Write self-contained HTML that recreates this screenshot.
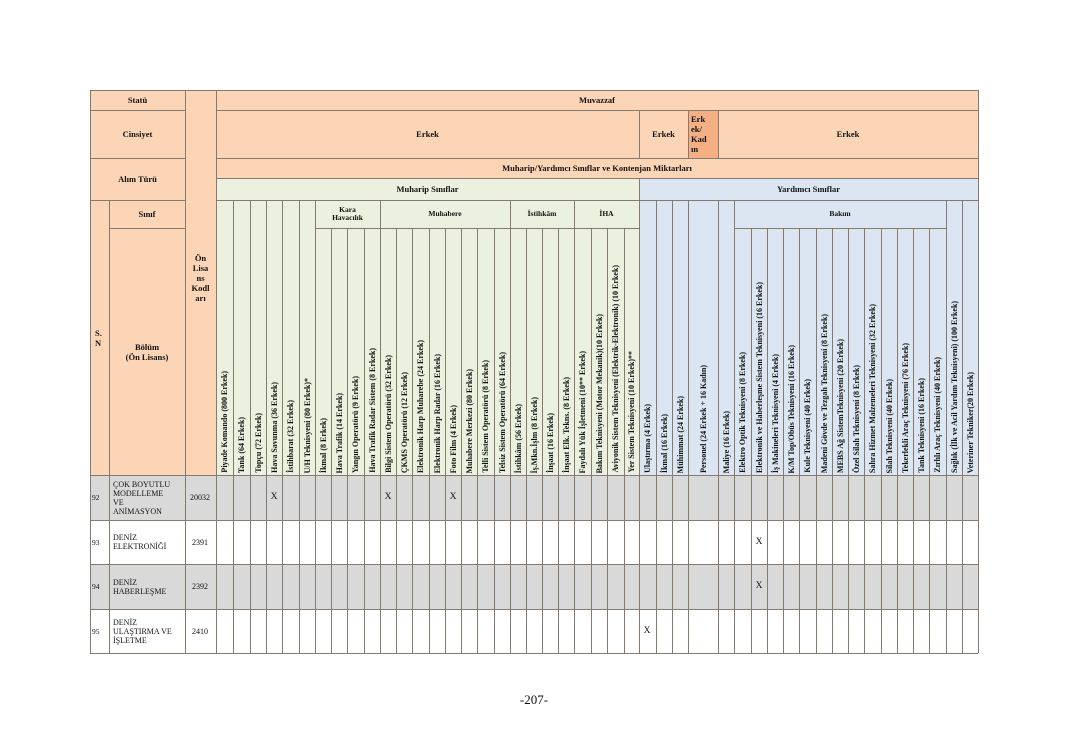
<!DOCTYPE html>
<html><head><meta charset="utf-8">
<style>
*{margin:0;padding:0;box-sizing:border-box}
body{width:1068px;height:755px;background:#fff;position:relative;overflow:hidden;font-family:"Liberation Serif",serif;color:#111}
.b{position:absolute}
.c{position:absolute;display:flex;align-items:center;justify-content:center;text-align:center;font-weight:bold;font-size:8.5px;line-height:10px}
.v{position:absolute;top:230px;height:243px;display:flex;justify-content:center;align-items:flex-end}
.v span{writing-mode:vertical-rl;transform:rotate(180deg);font-weight:bold;font-size:8px;white-space:nowrap;line-height:9px}
.d{position:absolute;font-size:8px;line-height:9px;display:flex;align-items:center}
.x{position:absolute;font-size:9.5px;width:16px;text-align:center}
</style></head><body>
<!-- backgrounds -->
<div class="b" style="left:90px;top:90px;width:888px;height:110px;background:#fbd5b5"></div>
<div class="b" style="left:90px;top:200px;width:126px;height:275px;background:#fbd5b5"></div>
<div class="b" style="left:688px;top:110px;width:30px;height:48px;background:#f4b084"></div>
<div class="b" style="left:216px;top:178px;width:423px;height:297px;background:#ebf1de"></div>
<div class="b" style="left:639px;top:178px;width:339px;height:297px;background:#dce6f2"></div>
<div class="b" style="left:90px;top:475px;width:888px;height:45px;background:#d9d9d9"></div>
<div class="b" style="left:90px;top:564px;width:888px;height:45px;background:#d9d9d9"></div>

<svg class="b" style="left:0;top:0" width="1068" height="755" stroke="#857a70" stroke-width="1">
<g>
<line x1="90" y1="90.5" x2="978" y2="90.5"/>
<line x1="90" y1="110.5" x2="185" y2="110.5"/>
<line x1="216" y1="110.5" x2="978" y2="110.5"/>
<line x1="90" y1="158.5" x2="185" y2="158.5"/>
<line x1="216" y1="158.5" x2="978" y2="158.5"/>
<line x1="216" y1="178.5" x2="978" y2="178.5"/>
<line x1="90" y1="200.5" x2="185" y2="200.5"/>
<line x1="216" y1="200.5" x2="978" y2="200.5"/>
<line x1="109" y1="228.5" x2="185" y2="228.5"/>
<line x1="315" y1="228.5" x2="639" y2="228.5"/>
<line x1="734" y1="228.5" x2="946" y2="228.5"/>
<line x1="90" y1="475.5" x2="978" y2="475.5"/>
<line x1="90" y1="520.5" x2="978" y2="520.5"/>
<line x1="90" y1="564.5" x2="978" y2="564.5"/>
<line x1="90" y1="609.5" x2="978" y2="609.5"/>
<line x1="90" y1="653.5" x2="978" y2="653.5"/>
<line x1="90.5" y1="90" x2="90.5" y2="653"/>
<line x1="109.5" y1="200" x2="109.5" y2="653"/>
<line x1="185.5" y1="90" x2="185.5" y2="653"/>
<line x1="216.5" y1="90" x2="216.5" y2="653"/>
<line x1="978.5" y1="90" x2="978.5" y2="653"/>
<line x1="639.5" y1="110" x2="639.5" y2="158"/>
<line x1="688.5" y1="110" x2="688.5" y2="158"/>
<line x1="718.5" y1="110" x2="718.5" y2="158"/>
<line x1="639.5" y1="178" x2="639.5" y2="653"/>
</g>
<g>
<line x1="233.5" y1="200" x2="233.5" y2="653"/>
<line x1="250.5" y1="200" x2="250.5" y2="653"/>
<line x1="266.5" y1="200" x2="266.5" y2="653"/>
<line x1="282.5" y1="200" x2="282.5" y2="653"/>
<line x1="299.5" y1="200" x2="299.5" y2="653"/>
<line x1="315.5" y1="200" x2="315.5" y2="653"/>
<line x1="331.5" y1="228" x2="331.5" y2="653"/>
<line x1="347.5" y1="228" x2="347.5" y2="653"/>
<line x1="364.5" y1="228" x2="364.5" y2="653"/>
<line x1="380.5" y1="200" x2="380.5" y2="653"/>
<line x1="396.5" y1="228" x2="396.5" y2="653"/>
<line x1="412.5" y1="228" x2="412.5" y2="653"/>
<line x1="429.5" y1="228" x2="429.5" y2="653"/>
<line x1="445.5" y1="228" x2="445.5" y2="653"/>
<line x1="461.5" y1="228" x2="461.5" y2="653"/>
<line x1="477.5" y1="228" x2="477.5" y2="653"/>
<line x1="494.5" y1="228" x2="494.5" y2="653"/>
<line x1="510.5" y1="200" x2="510.5" y2="653"/>
<line x1="526.5" y1="228" x2="526.5" y2="653"/>
<line x1="542.5" y1="228" x2="542.5" y2="653"/>
<line x1="558.5" y1="228" x2="558.5" y2="653"/>
<line x1="574.5" y1="200" x2="574.5" y2="653"/>
<line x1="591.5" y1="228" x2="591.5" y2="653"/>
<line x1="607.5" y1="228" x2="607.5" y2="653"/>
<line x1="624.5" y1="228" x2="624.5" y2="653"/>
<line x1="656.5" y1="200" x2="656.5" y2="653"/>
<line x1="672.5" y1="200" x2="672.5" y2="653"/>
<line x1="688.5" y1="200" x2="688.5" y2="653"/>
<line x1="718.5" y1="200" x2="718.5" y2="653"/>
<line x1="734.5" y1="200" x2="734.5" y2="653"/>
<line x1="751.5" y1="228" x2="751.5" y2="653"/>
<line x1="767.5" y1="228" x2="767.5" y2="653"/>
<line x1="783.5" y1="228" x2="783.5" y2="653"/>
<line x1="799.5" y1="228" x2="799.5" y2="653"/>
<line x1="816.5" y1="228" x2="816.5" y2="653"/>
<line x1="832.5" y1="228" x2="832.5" y2="653"/>
<line x1="848.5" y1="228" x2="848.5" y2="653"/>
<line x1="864.5" y1="228" x2="864.5" y2="653"/>
<line x1="881.5" y1="228" x2="881.5" y2="653"/>
<line x1="897.5" y1="228" x2="897.5" y2="653"/>
<line x1="913.5" y1="228" x2="913.5" y2="653"/>
<line x1="929.5" y1="228" x2="929.5" y2="653"/>
<line x1="946.5" y1="200" x2="946.5" y2="653"/>
<line x1="962.5" y1="200" x2="962.5" y2="653"/>
</g>
</svg>

<!-- header texts -->
<div class="c" style="left:90px;top:90px;width:95px;height:20px">Statü</div>
<div class="c" style="left:216px;top:90px;width:762px;height:20px">Muvazzaf</div>
<div class="c" style="left:90px;top:110px;width:95px;height:48px">Cinsiyet</div>
<div class="c" style="left:216px;top:110px;width:423px;height:48px">Erkek</div>
<div class="c" style="left:639px;top:110px;width:49px;height:48px">Erkek</div>
<div class="c" style="left:688px;top:110px;width:30px;height:48px;justify-content:flex-start;padding-left:3px;text-align:left">Erk<br>ek/<br>Kad<br>ın</div>
<div class="c" style="left:718px;top:110px;width:260px;height:48px">Erkek</div>
<div class="c" style="left:90px;top:158px;width:95px;height:42px">Alım Türü</div>
<div class="c" style="left:216px;top:158px;width:762px;height:20px">Muharip/Yardımcı Sınıflar ve Kontenjan Miktarları</div>
<div class="c" style="left:216px;top:178px;width:423px;height:22px">Muharip Sınıflar</div>
<div class="c" style="left:639px;top:178px;width:339px;height:22px">Yardımcı Sınıflar</div>
<div class="c" style="left:109px;top:200px;width:76px;height:28px">Sınıf</div>
<div class="c" style="left:90px;width:19px;justify-content:flex-start;padding-left:5px;text-align:left;top:200px;height:275px">S.<br>N</div>
<div class="c" style="left:109px;top:228px;width:76px;height:247px">Bölüm<br>(Ön Lisans)</div>
<div class="c" style="left:185px;top:90px;width:31px;height:385px;padding-bottom:10px">Ön<br>Lisa<br>ns<br>Kodl<br>arı</div>
<div class="c" style="left:315px;top:200px;width:65px;height:28px;font-size:7.5px;line-height:8px">Kara<br>Havacılık</div>
<div class="c" style="left:380px;top:200px;width:130px;height:28px;font-size:7.5px">Muhabere</div>
<div class="c" style="left:510px;top:200px;width:64px;height:28px;font-size:7.5px">İstihkâm</div>
<div class="c" style="left:574px;top:200px;width:65px;height:28px;font-size:7.5px">İHA</div>
<div class="c" style="left:734px;top:200px;width:212px;height:28px;font-size:7.5px">Bakım</div>

<!-- vertical labels -->
<div class="v" style="left:216px;width:17px"><span>Piyade Komando (800 Erkek)</span></div>
<div class="v" style="left:233px;width:17px"><span>Tank (64 Erkek)</span></div>
<div class="v" style="left:250px;width:16px"><span>Topçu (72 Erkek)</span></div>
<div class="v" style="left:266px;width:16px"><span>Hava Savunma (36 Erkek)</span></div>
<div class="v" style="left:282px;width:17px"><span>İstihbarat (32 Erkek)</span></div>
<div class="v" style="left:299px;width:16px"><span>U/H Teknisyeni (80 Erkek)*</span></div>
<div class="v" style="left:315px;width:16px"><span>İkmal (8 Erkek)</span></div>
<div class="v" style="left:331px;width:16px"><span>Hava Trafik (14 Erkek)</span></div>
<div class="v" style="left:347px;width:17px"><span>Yangın Operatörü (9 Erkek)</span></div>
<div class="v" style="left:364px;width:16px"><span>Hava Trafik Radar Sistem (8 Erkek)</span></div>
<div class="v" style="left:380px;width:16px"><span>Bilgi Sistem Operatörü (32 Erkek)</span></div>
<div class="v" style="left:396px;width:16px"><span>ÇKMS Operatörü (12 Erkek)</span></div>
<div class="v" style="left:412px;width:17px"><span>Elektronik Harp Muharebe (24 Erkek)</span></div>
<div class="v" style="left:429px;width:16px"><span>Elektronik Harp Radar (16 Erkek)</span></div>
<div class="v" style="left:445px;width:16px"><span>Foto Film (4 Erkek)</span></div>
<div class="v" style="left:461px;width:16px"><span>Muhabere Merkezi (80 Erkek)</span></div>
<div class="v" style="left:477px;width:17px"><span>Telli Sistem Operatörü (8 Erkek)</span></div>
<div class="v" style="left:494px;width:16px"><span>Telsiz Sistem Operatörü (64 Erkek)</span></div>
<div class="v" style="left:510px;width:16px"><span>İstihkâm (56 Erkek)</span></div>
<div class="v" style="left:526px;width:16px"><span>İş.Mkn.İşlm (8 Erkek)</span></div>
<div class="v" style="left:542px;width:16px"><span>İnşaat (16 Erkek)</span></div>
<div class="v" style="left:558px;width:16px"><span>İnşaat Elk. Tekns. (8 Erkek)</span></div>
<div class="v" style="left:574px;width:17px"><span>Faydalı Yük İşletmeni (10** Erkek)</span></div>
<div class="v" style="left:591px;width:16px"><span>Bakım Teknisyeni (Motor Mekanik)(10 Erkek)</span></div>
<div class="v" style="left:607px;width:17px"><span>Aviyonik Sistem Teknisyeni (Elektrik-Elektronik) (10 Erkek)</span></div>
<div class="v" style="left:624px;width:15px"><span>Yer Sistem Teknisyeni (10 Erkek)**</span></div>
<div class="v" style="left:639px;width:17px"><span>Ulaştırma (4 Erkek)</span></div>
<div class="v" style="left:656px;width:16px"><span>İkmal (16 Erkek)</span></div>
<div class="v" style="left:672px;width:16px"><span>Mühimmat (24 Erkek)</span></div>
<div class="v" style="left:688px;width:30px"><span>Personel (24 Erkek + 16 Kadın)</span></div>
<div class="v" style="left:718px;width:16px"><span>Maliye (16 Erkek)</span></div>
<div class="v" style="left:734px;width:17px"><span>Elektro Optik Teknisyeni (8 Erkek)</span></div>
<div class="v" style="left:751px;width:16px"><span>Elektronik ve Haberleşme Sistem Teknisyeni (16 Erkek)</span></div>
<div class="v" style="left:767px;width:16px"><span>İş Makineleri Teknisyeni (4 Erkek)</span></div>
<div class="v" style="left:783px;width:16px"><span>K/M Top/Obüs Teknisyeni (16 Erkek)</span></div>
<div class="v" style="left:799px;width:17px"><span>Kule Teknisyeni (40 Erkek)</span></div>
<div class="v" style="left:816px;width:16px"><span>Madeni Gövde ve Tezgah Teknisyeni (8 Erkek)</span></div>
<div class="v" style="left:832px;width:16px"><span>MEBS Ağ SistemTeknisyeni (20 Erkek)</span></div>
<div class="v" style="left:848px;width:16px"><span>Özel Silah Teknisyeni (8 Erkek)</span></div>
<div class="v" style="left:864px;width:17px"><span>Sahra Hizmet Malzemeleri Teknisyeni (32 Erkek)</span></div>
<div class="v" style="left:881px;width:16px"><span>Silah Teknisyeni (40 Erkek)</span></div>
<div class="v" style="left:897px;width:16px"><span>Tekerlekli Araç Teknisyeni (76 Erkek)</span></div>
<div class="v" style="left:913px;width:16px"><span>Tank Teknisyeni (16 Erkek)</span></div>
<div class="v" style="left:929px;width:17px"><span>Zırhlı Araç Teknisyeni (40 Erkek)</span></div>
<div class="v" style="left:946px;width:16px"><span>Sağlık (İlk ve Acil Yardım Teknisyeni) (100 Erkek)</span></div>
<div class="v" style="left:962px;width:16px"><span>Veteriner Tekniker(20 Erkek)</span></div>

<!-- data rows -->
<div class="d" style="left:92px;top:475px;height:45px;font-size:7.5px">92</div>
<div class="d" style="left:113px;top:475px;height:45px">ÇOK BOYUTLU<br>MODELLEME<br>VE<br>ANİMASYON</div>
<div class="d" style="left:190px;top:475px;height:45px">20032</div>
<div class="d" style="left:92px;top:520px;height:44px;font-size:7.5px">93</div>
<div class="d" style="left:113px;top:520px;height:44px">DENİZ<br>ELEKTRONİĞİ</div>
<div class="d" style="left:192px;top:520px;height:44px">2391</div>
<div class="d" style="left:92px;top:564px;height:45px;font-size:7.5px">94</div>
<div class="d" style="left:113px;top:564px;height:45px">DENİZ<br>HABERLEŞME</div>
<div class="d" style="left:192px;top:564px;height:45px">2392</div>
<div class="d" style="left:92px;top:609px;height:44px;font-size:7.5px">95</div>
<div class="d" style="left:113px;top:609px;height:44px">DENİZ<br>ULAŞTIRMA VE<br>İŞLETME</div>
<div class="d" style="left:192px;top:609px;height:44px">2410</div>

<div class="x" style="left:266px;top:492px">X</div>
<div class="x" style="left:380px;top:492px">X</div>
<div class="x" style="left:445px;top:492px">X</div>
<div class="x" style="left:751px;top:537px">X</div>
<div class="x" style="left:751px;top:581px">X</div>
<div class="x" style="left:639px;top:626px">X</div>

<div class="b" style="left:500px;top:692px;width:68px;text-align:center;font-size:13px">-207-</div>
</body></html>
